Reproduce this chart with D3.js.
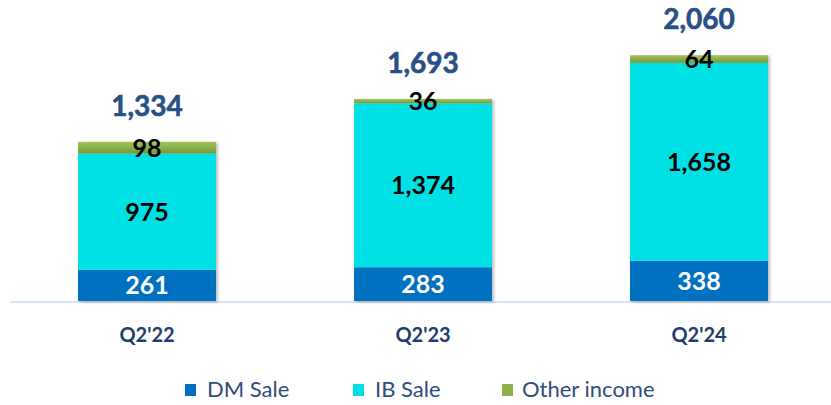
<!DOCTYPE html>
<html>
<head>
<meta charset="utf-8">
<script src="https://cdn.jsdelivr.net/npm/d3@7"></script>
<style>
  body { margin: 0; background: #fff; }
  svg { display: block; font-family: Lato, "Open Sans", sans-serif; }
</style>
</head>
<body>
<script>
'use strict';

// chart values
const quarters = ["Q2'22", "Q2'23", "Q2'24"];
const dmSale = [261, 283, 338];
const ibSale = [975, 1374, 1658];
const otherIncome = [98, 36, 64];
const totals = [1334, 1693, 2060];
const seriesNames = ["DM Sale", "IB Sale", "Other income"];

const width = 831, height = 405;

const svg = d3.select('body').append('svg')
  .attr('width', width)
  .attr('height', height);

// defs: green gradient and soft shadow
const defs = svg.append('defs');
const grad = defs.append('linearGradient')
  .attr('id', 'greenGrad')
  .attr('x1', 0).attr('y1', 0).attr('x2', 0).attr('y2', 1);
grad.append('stop').attr('offset', '0%').attr('stop-color', '#a3c45e');
grad.append('stop').attr('offset', '100%').attr('stop-color', '#74993a');

const shadow = defs.append('filter')
  .attr('id', 'shadow')
  .attr('x', '-10%').attr('y', '-10%')
  .attr('width', '130%').attr('height', '130%');
shadow.append('feDropShadow')
  .attr('dx', 2).attr('dy', 1)
  .attr('stdDeviation', 1.5)
  .attr('flood-color', '#000')
  .attr('flood-opacity', 0.25);

const colors = ['#0070c0', '#00e1e6', 'url(#greenGrad)'];
const legendColors = ['#0070c0', '#00e1e6', '#8bb04a'];

// build stack table
const rows = quarters.map((q, i) => ({
  quarter: q,
  dm: dmSale[i],
  ib: ibSale[i],
  other: otherIncome[i],
  total: totals[i]
}));
const keys = ['dm', 'ib', 'other'];
const stacked = d3.stack().keys(keys)(rows);

// scales
const x = d3.scaleBand()
  .domain(quarters)
  .range([9, 837])
  .paddingInner(0.5)
  .paddingOuter(0.25);

const y = d3.scaleLinear()
  .domain([0, 2523])
  .range([301, 0]);

// baseline
svg.append('line')
  .attr('x1', 10).attr('x2', 831)
  .attr('y1', 302).attr('y2', 302)
  .attr('stroke', '#d5e3f3')
  .attr('stroke-width', 2);

// bars
const layers = svg.append('g').attr('filter', 'url(#shadow)')
  .selectAll('g')
  .data(stacked)
  .join('g')
  .attr('fill', (d, i) => colors[i]);

layers.selectAll('rect')
  .data(d => d)
  .join('rect')
  .attr('x', d => x(d.data.quarter))
  .attr('width', x.bandwidth())
  .attr('y', d => y(d[1]))
  .attr('height', d => y(d[0]) - y(d[1]));

// segment labels
const labelColors = ['#ffffff', '#000000', '#000000'];
stacked.forEach((layer, li) => {
  svg.append('g').selectAll('text')
    .data(layer)
    .join('text')
    .attr('x', d => x(d.data.quarter) + x.bandwidth() / 2)
    .attr('y', d => (y(d[0]) + y(d[1])) / 2)
    .attr('dy', '0.36em')
    .attr('text-anchor', 'middle')
    .style('font-size', '25px')
    .style('font-weight', 'bold')
    .attr('fill', labelColors[li])
    .text(d => d3.format(',')(d.data[keys[li]]));
});

// totals
svg.append('g').selectAll('text')
  .data(rows)
  .join('text')
  .attr('x', d => x(d.quarter) + x.bandwidth() / 2)
  .attr('y', d => y(d.total) - 26)
  .attr('text-anchor', 'middle')
  .style('font-size', '28px')
  .style('font-weight', 'bold')
  .attr('fill', '#284f86')
  .attr('stroke', '#284f86')
  .attr('stroke-width', 0.6)
  .text(d => d3.format(',')(d.total));

// category axis labels
const xAxis = d3.axisBottom(x).tickSize(0).tickPadding(0);
const axisG = svg.append('g')
  .attr('transform', 'translate(0, 328)')
  .call(xAxis);
axisG.select('.domain').remove();
axisG.selectAll('text')
  .style('font-family', 'Lato, sans-serif')
  .style('font-size', '20px')
  .style('font-weight', 'bold')
  .attr('fill', '#1f3d6b');

// legend
const legendSquareX = [185, 353, 502];
const legendTextX = [207, 375, 522];
const legend = svg.append('g');
seriesNames.forEach((name, i) => {
  legend.append('rect')
    .attr('x', legendSquareX[i])
    .attr('y', 384)
    .attr('width', 11)
    .attr('height', 12)
    .attr('fill', legendColors[i]);
  legend.append('text')
    .attr('x', legendTextX[i])
    .attr('y', 397)
    .style('font-size', '22px')
    .attr('fill', '#2f4d7c')
    .text(name);
});
</script>
</body>
</html>
